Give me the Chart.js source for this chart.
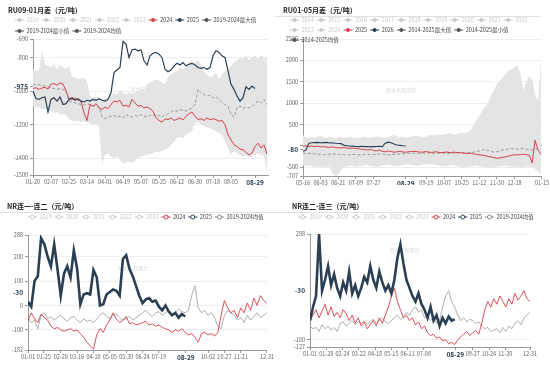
<!DOCTYPE html>
<html lang="zh-CN">
<head>
<meta charset="UTF-8">
<title>RU / NR 月差</title>
<script src="https://cdn.jsdelivr.net/npm/chart.js"></script>
<style>
  html, body { margin: 0; padding: 0; background: #fff; }
  body { width: 550px; height: 370px; position: relative; overflow: hidden; }
  canvas { position: absolute; }
  #cA { left: 0; top: 0; }
  #cB { left: 275px; top: 0; }
  #cC { left: 0; top: 185px; }
  #cD { left: 275px; top: 185px; }
</style>
</head>
<body>
<canvas id="cA" width="275" height="185"></canvas>
<canvas id="cB" width="275" height="185"></canvas>
<canvas id="cC" width="275" height="185"></canvas>
<canvas id="cD" width="275" height="185"></canvas>
<script>
const FONT = '"Noto Sans CJK SC", "Noto Sans", sans-serif';
const RED = '#d6404a';
const NAVY = '#2a3f53';
const GREY_OFF = '#c9c9c9';
const MEAN_GREY = '#9a9a9a';
const BAND = '#e4e4e4';

// ---------- RU09-01 月差 (x = 自 01-20 起的天数，每 3 天一个点) ----------
const stepA = 3;
const xTicksA = [0, 18, 36, 54, 72, 90, 108, 126, 144, 162, 180, 198, 222];
const xLabelsA = ['01-20','02-07','02-25','03-14','04-01','04-19','05-07','05-25','06-12','06-30','07-18','08-05','08-29'];
const yTicksA = [-1500, -1400, -1200, -1000, -975, -800, -690];
const ru0901_2024 = [-985,-980,-990,-982,-978,-988,-960,-955,-965,-952,-958,-1000,-1045,-1050,-1040,-1055,-1060,-1130,-1176,-1080,
  -1090,-1075,-1100,-1110,-1095,-1105,-1080,-1060,-1065,-1055,-1090,-1085,-1095,-1050,-1070,-1090,-1085,-1100,-1095,-1105,
  -1120,-1160,-1175,-1185,-1165,-1170,-1160,-1175,-1168,-1160,-1172,-1150,-1135,-1125,-1150,-1170,-1165,-1175,-1160,-1170,
  -1165,-1170,-1180,-1175,-1200,-1260,-1290,-1320,-1330,-1345,-1350,-1365,-1380,-1370,-1330,-1310,-1340,-1320,-1375];
const ru0901_2025 = [-1000,-1045,-1050,-1040,-1035,-1125,-1050,-1040,-1060,-1035,-1080,-1075,-1050,-1040,-1055,-1045,-1060,-1065,-1055,-1060,
  -1050,-1055,-1045,-1055,-1060,-1050,-1010,-890,-875,-860,-705,-720,-800,-755,-750,-760,-755,-820,-845,-790,
  -775,-770,-780,-800,-870,-885,-875,-850,-835,-845,-830,-850,-840,-835,-845,-860,-865,-860,-870,-860,
  -790,-760,-770,-790,-800,-880,-960,-990,-1030,-1060,-1040,-975,-990,-970,-985];
const ru0901_mean = [-960,-965,-962,-970,-968,-975,-980,-985,-990,-985,-990,-1000,-1060,-1065,-1070,-1075,-1080,-1085,-1075,-1080,
  -1090,-1085,-1095,-1150,-1165,-1155,-1150,-1145,-1155,-1150,-1160,-1140,-1150,-1155,-1145,-1150,-1140,-1150,-1155,-1145,
  -1140,-1150,-1145,-1155,-1140,-1135,-1125,-1115,-1120,-1110,-1115,-1120,-1110,-1100,-1080,-990,-1010,-1020,-1030,-1025,
  -1040,-1035,-1050,-1070,-1080,-1090,-1140,-1155,-1100,-1090,-1105,-1095,-1100,-1090,-1075,-1060,-1070,-1050,-1080];
const ru0901_max = [-870,-880,-875,-760,-840,-850,-860,-835,-870,-845,-860,-870,-850,-915,-920,-930,-925,-920,-940,-1030,
  -1040,-1035,-1045,-1050,-1045,-1040,-1030,-1010,-1020,-1000,-1010,-1020,-1005,-1015,-1010,-1000,-990,-1000,-960,-950,
  -940,-930,-935,-950,-960,-920,-900,-890,-880,-860,-870,-850,-830,-820,-830,-815,-840,-880,-900,-920,
  -910,-890,-930,-900,-880,-870,-850,-830,-820,-800,-810,-790,-815,-800,-790,-810,-785,-800,-800];
const ru0901_min = [-1090,-1100,-1095,-1110,-1105,-1115,-1120,-1130,-1125,-1140,-1135,-1140,-1170,-1175,-1180,-1175,-1185,-1180,-1185,-1190,
  -1200,-1195,-1210,-1440,-1380,-1370,-1390,-1400,-1390,-1410,-1430,-1425,-1420,-1430,-1415,-1400,-1390,-1385,-1380,-1375,
  -1370,-1360,-1365,-1355,-1350,-1340,-1320,-1300,-1280,-1270,-1280,-1260,-1250,-1240,-1190,-1185,-1200,-1210,-1215,-1220,
  -1230,-1240,-1250,-1260,-1300,-1340,-1380,-1360,-1370,-1380,-1390,-1385,-1395,-1390,-1380,-1370,-1380,-1385,-1480];

// ---------- RU01-05 月差 (x = 自 05-16 起的天数，每 3 天一个点) ----------
const stepB = 3;
const xTicksB = [0, 18, 36, 54, 72, 105, 126, 144, 162, 180, 198, 216, 244];
const xLabelsB = ['05-16','06-03','06-21','07-09','07-27','08-29','09-19','10-07','10-25','11-12','11-30','12-18','01-15'];
const yTicksB = [-707, -500, -80, 0, 500, 1000, 1500, 2000, 2500];
const yLabelsB = ['-707', '-500', '-80', '', '500', '1000', '1500', '2000', '2500'];
const ru0105_2025 = [-10,0,-15,-5,-20,-10,-25,-20,-30,-35,-25,-40,-45,-50,-40,-55,-60,-50,-65,
  -70,-80,-90,-100,-85,-110,-120,-100,-130,-140,-120,-135,-150,-140,-130,-145,-150,-140,
  -135,-130,-140,-150,-145,-135,-150,-155,-140,-150,-160,-155,-145,-160,-150,-155,-165,
  -160,-170,-180,-175,-190,-200,-210,-220,-230,-250,-260,-280,-290,-285,-270,-260,-240,
  -220,-210,-215,-205,-200,-210,-220,-400,130,-100,-200];
const ru0105_2026 = [-130,-100,60,70,75,80,70,75,80,65,70,60,55,50,10,0,-10,-5,-15,-20,-10,
  -20,-15,-25,-20,-15,-10,-20,60,85,70,40,20,10,0,-5];
const ru0105_mean = [-170,-180,-175,-190,-185,-200,-195,-210,-205,-200,-190,-195,-200,-210,-205,-215,-210,-200,-205,-210,
  -215,-200,-195,-205,-210,-200,-195,-190,-200,-205,-210,-200,-195,-190,-185,-190,-180,
  -175,-170,-175,-180,-170,-165,-175,-180,-170,-175,-165,-170,-175,-180,-170,-165,-160,-170,-175,-165,-160,-150,-140,-120,-100,
  -90,-110,-130,-150,-140,-120,-100,-85,-75,-65,-70,-80,-70,-60,-80,-90,-100,-70,-80,-90];
const ru0105_max = [250,200,180,220,190,210,230,200,180,210,190,170,200,220,180,190,210,200,180,190,
  200,210,190,180,200,220,210,190,180,200,230,250,220,200,210,190,200,220,240,230,210,200,220,250,
  260,240,270,250,260,280,300,270,260,290,310,300,320,350,
  480,600,700,830,900,1000,1180,1300,1450,1530,1600,1700,1760,1800,1850,1880,1700,1300,1500,1640,1550,1200,1060,2000];
const ru0105_min = [-450,-470,-460,-480,-500,-470,-490,-520,-500,-480,-650,-700,-680,-560,
  -500,-480,-460,-470,-490,-480,-470,-460,-450,-470,-480,-490,-470,-460,-450,-440,-460,-470,-480,-460,
  -450,-440,-430,-450,-460,-470,-450,-440,-430,-420,-440,-450,-460,-470,-480,-470,-460,-450,-470,-480,
  -500,-510,-490,-480,-470,-460,-480,-490,-500,-520,-510,-500,-490,-480,-470,-460,-480,-490,-500,-510,
  -520,-500,-490,-480,-500,-540,-600,-650];

// ---------- NR 连一-连二 (x = 当年天数，每 5 天一个点) ----------
const stepC = 5;
const xTicksC = [0, 24, 50, 75, 100, 125, 150, 175, 200, 241, 275, 300, 325, 365];
const xLabelsC = ['01-01','01-25','02-20','03-16','04-10','05-05','05-30','06-24','07-19','08-29','10-02','10-27','11-21','12-31'];
const yTicksC = [-182, -100, 0, 100, 200, 288];
const nr12_2024 = [-60,-30,-55,-70,-35,-50,-60,-85,-95,-90,-100,-105,-100,-95,-105,-100,-115,-130,-150,-165,
  -178,-120,-95,-110,-80,-60,-30,-55,-70,-60,-45,-75,-70,-80,-75,-70,-65,-80,-75,-85,
  -80,-90,-95,-100,-110,-100,-105,-95,-110,-120,-115,-130,-150,-115,-110,-120,-115,-125,-110,-40,
  20,-10,-30,-20,-50,-10,-30,10,-20,30,0,40,20,10];
const nr12_2025 = [15,-5,100,120,275,250,200,160,250,150,40,130,160,115,225,150,5,45,50,45,
  145,115,0,5,45,55,65,60,40,190,205,150,120,80,40,10,25,30,15,20,
  -5,-20,0,-25,-40,-30,-50,-35,-45];
const nr12_mean = [-50,-70,-60,-95,-40,-30,-55,-45,-60,-50,-40,-55,-65,-50,-45,-60,-70,-55,-65,-60,
  -70,-55,-40,-30,-45,-55,-40,-35,-50,-60,-55,-45,-60,-50,-40,-30,-20,-35,-45,-30,
  -25,-40,-30,-20,-35,-30,-15,-25,-30,-20,40,80,-10,-30,-20,-40,-30,-50,-85,-95,
  -40,-20,-30,-40,-60,-50,-70,-40,-60,-45,-30,-50,-40,-30];

// ---------- NR 连二-连三 ----------
const stepD = 5;
const xTicksD = [0, 27, 54, 81, 108, 135, 162, 189, 241, 270, 297, 324, 365];
const xLabelsD = ['01-01','01-28','02-24','03-22','04-18','05-15','06-11','07-08','08-29','09-27','10-24','11-20','12-31'];
const yTicksD = [-127, -100, 288];
const nr23_2024 = [-30,-10,10,-20,5,30,-10,20,-15,0,-20,10,-5,-30,-10,-40,-20,-50,-35,-60,
  -45,-30,-50,-20,-40,-10,20,60,90,40,10,-20,-10,-30,-20,-45,-35,-60,-50,-75,
  -85,-80,-95,-90,-105,-100,-115,-110,-118,-100,-90,-80,-70,-85,-75,-65,-80,-40,10,40,
  20,50,30,60,40,20,50,30,70,45,60,80,50,40];
const nr23_2025 = [-30,20,60,288,80,120,170,100,140,90,60,110,80,150,70,100,60,90,130,110,
  170,120,90,150,110,80,100,70,120,200,250,180,120,90,60,40,70,30,10,-20,
  20,-30,-10,-50,-20,-40,-15,-30,-25];
const nr23_mean = [-50,-60,-55,-70,-45,-60,-50,-65,-55,-70,-40,-35,-50,-40,-30,-45,-35,-40,-30,-45,
  -35,-25,-40,-30,-20,-35,-40,-30,-20,-10,-25,-15,0,-10,10,20,0,10,-20,-10,
  -30,-20,-40,-30,20,60,80,40,20,-10,-30,-20,-35,-25,-30,-40,-35,-50,-60,-55,
  -70,-65,-60,-75,-55,-70,-50,-60,-40,-30,-45,-20,-10,0];
// 两张 NR 图纵轴中部的最新值标签
const nrLatestLabel = '-30';

// 图例
const offYears = (list) => list.map(t => ({ text: t, color: GREY_OFF, textColor: GREY_OFF }));
const legendA = [
  [...offYears(['2019','2020','2021','2022','2023']),
   { text: '2024', color: RED, textColor: '#444' },
   { text: '2025', color: NAVY, textColor: '#444' },
   { text: '2019-2024最大值', color: '#555', textColor: '#444' }],
  [{ text: '2019-2024最小值', color: '#555', textColor: '#444' },
   { text: '2019-2024均值', color: '#555', textColor: '#444' }]
];
const legendB = [
  offYears(['2014','2015','2016','2017','2018','2019','2020','2021','2022']),
  [...offYears(['2023','2024']),
   { text: '2025', color: RED, textColor: '#444' },
   { text: '2026', color: NAVY, textColor: '#444' },
   { text: '2014-2025最大值', color: '#555', textColor: '#444' },
   { text: '2014-2025最小值', color: '#555', textColor: '#444' }],
  [{ text: '2014-2025均值', color: '#555', textColor: '#444' }]
];
const legendNR = [
  [...offYears(['2019','2020','2021','2022','2023']),
   { text: '2024', color: RED, textColor: '#444' },
   { text: '2025', color: NAVY, textColor: '#444' },
   { text: '2019-2024均值', color: '#888', textColor: '#444' }]
];

const pts = (arr, step) => arr.map((v, i) => ({ x: i * step, y: v }));

// 标题、分隔线、图例、水印
const panelDeco = {
  id: 'panelDeco',
  beforeDatasetsDraw(chart, args, o) {
    const { ctx, chartArea: a } = chart;
    ctx.save();
    ctx.font = '5px ' + FONT;
    ctx.fillStyle = 'rgba(0,0,0,0.16)';
    ctx.textAlign = 'center';
    ctx.textBaseline = 'middle';
    ctx.fillText('紫金天风期货', a.left + o.wm[0] * (a.right - a.left), a.top + o.wm[1] * (a.bottom - a.top));
    ctx.restore();
  },
  afterDraw(chart, args, o) {
    const ctx = chart.ctx;
    const a = chart.chartArea;
    ctx.save();
    ctx.textBaseline = 'middle';
    ctx.textAlign = 'left';
    ctx.font = 'bold 7px ' + FONT;
    ctx.fillStyle = '#222';
    ctx.fillText(o.title, o.titleX, o.titleY);
    if (o.sep) {
      ctx.strokeStyle = '#e0e0e0';
      ctx.lineWidth = 1;
      ctx.beginPath();
      ctx.moveTo(o.sep[0], o.sep[2] + 0.5);
      ctx.lineTo(o.sep[1], o.sep[2] + 0.5);
      ctx.stroke();
    }
    if (o.midLabel) {
      ctx.font = 'bold 6.5px ' + FONT;
      ctx.fillStyle = NAVY;
      ctx.textAlign = 'right';
      ctx.fillText(o.midLabel, a.left - 5, (a.top + a.bottom) / 2);
      ctx.textAlign = 'left';
    }
    ctx.font = '5.5px ' + FONT;
    o.legend.forEach((row, r) => {
      let x = o.legendX;
      const y = o.legendY + r * o.legendGap;
      row.forEach(it => {
        ctx.strokeStyle = it.color;
        ctx.lineWidth = 1;
        ctx.beginPath();
        ctx.moveTo(x, y);
        ctx.lineTo(x + 9, y);
        ctx.stroke();
        ctx.beginPath();
        ctx.arc(x + 4.5, y, 2, 0, Math.PI * 2);
        if (o.hollow) { ctx.fillStyle = '#fff'; ctx.fill(); ctx.stroke(); }
        else { ctx.fillStyle = it.color; ctx.fill(); }
        ctx.fillStyle = it.textColor;
        ctx.fillText(it.text, x + 11.5, y);
        x += 11.5 + ctx.measureText(it.text).width + 3;
      });
    });
    ctx.restore();
  }
};
Chart.register(panelDeco);

function makeScales(c) {
  const tickFont = (bold) => bold ? { family: FONT, size: 6.5, weight: 'bold' } : { family: FONT, size: 5.5 };
  return {
    x: {
      type: 'linear', min: c.xMin, max: c.xMax,
      afterBuildTicks: s => { s.ticks = c.xTicks.map(v => ({ value: v })); },
      afterFit: s => { s.height = c.xH; },
      ticks: {
        autoSkip: false, maxRotation: 0, padding: 1,
        callback: (v, i) => c.xLabels[i],
        font: ctx => tickFont(ctx.tick && ctx.tick.value === c.xBold),
        color: ctx => (ctx.tick && ctx.tick.value === c.xBold) ? NAVY : '#666'
      },
      grid: { drawOnChartArea: false, tickLength: 3, tickColor: '#999' },
      border: { color: '#999' }
    },
    y: {
      min: c.yTicks[0], max: c.yTicks[c.yTicks.length - 1],
      afterBuildTicks: s => { s.ticks = c.yTicks.map(v => ({ value: v })); },
      afterFit: s => { s.width = c.yW; },
      ticks: {
        autoSkip: false, padding: 2,
        callback: (v, i) => c.yLabels ? c.yLabels[i] : String(c.yTicks[i]),
        font: ctx => tickFont(ctx.tick && ctx.tick.value === c.yBold),
        color: ctx => (ctx.tick && ctx.tick.value === c.yBold) ? NAVY : '#666'
      },
      grid: {
        tickLength: 3, tickColor: '#999',
        color: ctx => {
          if (!ctx.tick) return '#eee';
          if (ctx.tick.value === c.yZero) return '#777';
          if (ctx.tick.value === c.yBold) return 'rgba(0,0,0,0)';
          return '#eeeeee';
        }
      },
      border: { color: '#999' }
    }
  };
}

function baseOptions(c, deco) {
  return {
    responsive: false, animation: false, devicePixelRatio: 1,
    layout: { padding: c.pad },
    elements: { point: { radius: 0 }, line: { tension: 0 } },
    plugins: { legend: { display: false }, title: { display: false }, tooltip: { enabled: false }, panelDeco: deco },
    scales: makeScales(c)
  };
}

// RU09-01
new Chart(document.getElementById('cA'), {
  type: 'line',
  data: { datasets: [
    { label: '2025', data: pts(ru0901_2025, stepA), borderColor: NAVY, borderWidth: 1.2 },
    { label: '2024', data: pts(ru0901_2024, stepA), borderColor: RED, borderWidth: 1 },
    { label: '2019-2024均值', data: pts(ru0901_mean, stepA), borderColor: MEAN_GREY, borderWidth: 1, borderDash: [3, 2] },
    { label: '2019-2024最大值', data: pts(ru0901_max, stepA), borderWidth: 0, borderColor: BAND, backgroundColor: BAND, fill: '+1' },
    { label: '2019-2024最小值', data: pts(ru0901_min, stepA), borderWidth: 0, borderColor: BAND, fill: false }
  ]},
  options: baseOptions(
    { xMin: 0, xMax: 235, xTicks: xTicksA, xLabels: xLabelsA, xBold: 222, yTicks: yTicksA, yBold: -975,
      yW: 33, xH: 10, pad: { top: 39, right: 7, bottom: 0, left: 0 } },
    { title: 'RU09-01月差（元/吨）', titleX: 8, titleY: 10, legend: legendA, legendX: 15, legendY: 20, legendGap: 11, wm: [0.48, 0.37] })
});

// RU01-05
new Chart(document.getElementById('cB'), {
  type: 'line',
  data: { datasets: [
    { label: '2026', data: pts(ru0105_2026, stepB), borderColor: NAVY, borderWidth: 1.1 },
    { label: '2025', data: pts(ru0105_2025, stepB), borderColor: RED, borderWidth: 1 },
    { label: '2014-2025均值', data: pts(ru0105_mean, stepB), borderColor: MEAN_GREY, borderWidth: 1, borderDash: [3, 2] },
    { label: '2014-2025最大值', data: pts(ru0105_max, stepB), borderWidth: 0, borderColor: BAND, backgroundColor: BAND, fill: '+1' },
    { label: '2014-2025最小值', data: pts(ru0105_min, stepB), borderWidth: 0, borderColor: BAND, fill: false }
  ]},
  options: baseOptions(
    { xMin: 0, xMax: 244, xTicks: xTicksB, xLabels: xLabelsB, xBold: 105, yTicks: yTicksB, yLabels: yLabelsB, yBold: -80, yZero: 0,
      yW: 28, xH: 9, pad: { top: 39, right: 8, bottom: 0, left: 0 } },
    { title: 'RU01-05月差（元/吨）', titleX: 8, titleY: 10, sep: [0, 265, 16], legend: legendB, legendX: 15, legendY: 20, legendGap: 10, wm: [0.41, 0.37] })
});

// NR 连一-连二
new Chart(document.getElementById('cC'), {
  type: 'line',
  data: { datasets: [
    { label: '2025', data: pts(nr12_2025, stepC), borderColor: NAVY, borderWidth: 2.6 },
    { label: '2024', data: pts(nr12_2024, stepC), borderColor: RED, borderWidth: 0.9 },
    { label: '2019-2024均值', data: pts(nr12_mean, stepC), borderColor: MEAN_GREY, borderWidth: 0.8 }
  ]},
  options: baseOptions(
    { xMin: 0, xMax: 365, xTicks: xTicksC, xLabels: xLabelsC, xBold: 241, yTicks: yTicksC,
      yW: 28, xH: 20, pad: { top: 50, right: 3, bottom: 0, left: 0 } },
    { title: 'NR连一-连二（元/吨）', titleX: 7, titleY: 21.5, sep: [0, 275, 27], legend: legendNR, legendX: 28, legendY: 32, legendGap: 10,
      hollow: true, midLabel: nrLatestLabel, wm: [0.44, 0.29] })
});

// NR 连二-连三
new Chart(document.getElementById('cD'), {
  type: 'line',
  data: { datasets: [
    { label: '2025', data: pts(nr23_2025, stepD), borderColor: NAVY, borderWidth: 2.6 },
    { label: '2024', data: pts(nr23_2024, stepD), borderColor: RED, borderWidth: 0.9 },
    { label: '2019-2024均值', data: pts(nr23_mean, stepD), borderColor: MEAN_GREY, borderWidth: 0.8 }
  ]},
  options: baseOptions(
    { xMin: 0, xMax: 365, xTicks: xTicksD, xLabels: xLabelsD, xBold: 241, yTicks: yTicksD,
      yW: 35, xH: 23, pad: { top: 49, right: 20, bottom: 0, left: 0 } },
    { title: 'NR连二-连三（元/吨）', titleX: 17, titleY: 21.5, sep: [0, 258, 27], legend: legendNR, legendX: 23, legendY: 32, legendGap: 10,
      hollow: true, midLabel: nrLatestLabel, wm: [0.43, 0.14] })
});
</script>
</body>
</html>
